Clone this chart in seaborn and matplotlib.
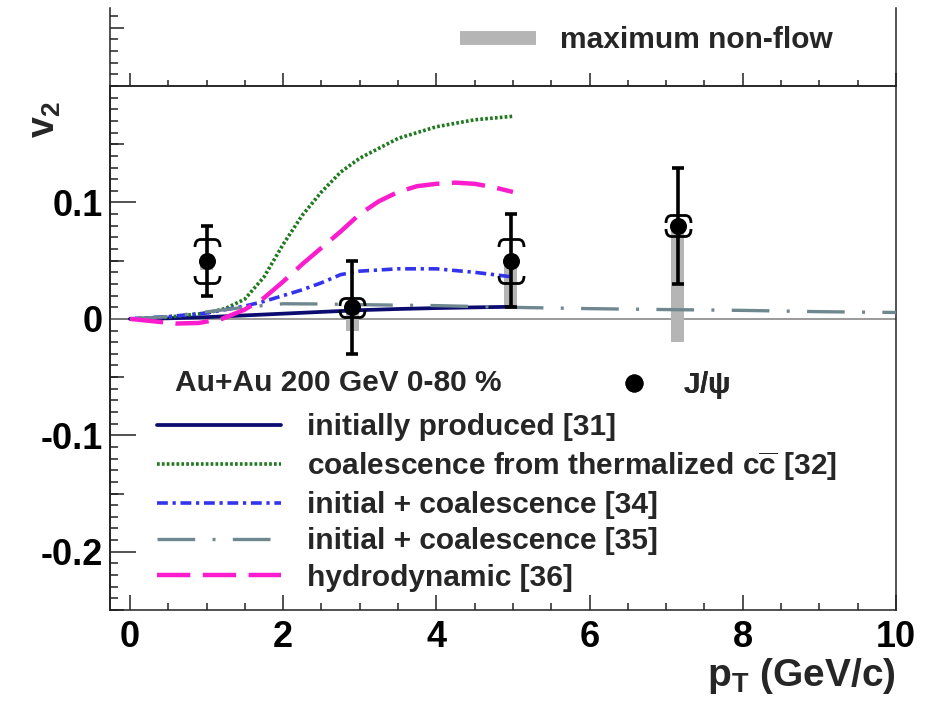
import numpy as np
import pandas as pd
import matplotlib
matplotlib.use("Agg")
import matplotlib.pyplot as plt
import seaborn as sns
from matplotlib.path import Path
from matplotlib.lines import Line2D
from matplotlib.ticker import MultipleLocator, NullLocator

# ---- J/psi v2 measurement (Au+Au 200 GeV, 0-80 %) ----
pt_jpsi = [1.0, 2.9, 4.97, 7.15]
v2_jpsi = [0.05, 0.01, 0.05, 0.08]
stat_err = [0.03, 0.04, 0.04, 0.05]
sys_err = [0.019, 0.008, 0.019, 0.009]
nonflow = [0.008, 0.02, 0.04, 0.10]

# ---- model curves ----
pt_31 = [0, 0.5, 1.0, 1.5, 2.0, 2.5, 3.0, 3.5, 4.0, 4.5, 5.0]
v2_31 = [0, 0.0005, 0.0015, 0.003, 0.0045, 0.006, 0.0075, 0.0085, 0.0093, 0.0099, 0.0104]

pt_32 = [0, 0.5, 1.0, 1.25, 1.5, 1.75, 2.0, 2.25, 2.5, 2.75, 3.0, 3.5, 4.0, 4.5, 5.0]
v2_32 = [0, 0.0015, 0.005, 0.009, 0.017, 0.036, 0.064, 0.089, 0.109, 0.126, 0.138, 0.155, 0.165, 0.171, 0.174]

pt_34 = [0, 0.5, 1.0, 1.25, 1.5, 1.75, 2.0, 2.25, 2.5, 2.75, 3.0, 3.5, 4.0, 4.5, 5.0]
v2_34 = [0, 0.002, 0.005, 0.008, 0.011, 0.015, 0.02, 0.025, 0.031, 0.038, 0.041, 0.043, 0.043, 0.040, 0.036]

pt_35 = [0, 0.5, 1.0, 1.5, 2.0, 2.5, 3.0, 4.0, 5.0, 6.0, 7.0, 8.0, 9.0, 10.0]
v2_35 = [0, 0.002, 0.006, 0.010, 0.013, 0.0128, 0.0122, 0.0114, 0.0099, 0.0088, 0.008, 0.0073, 0.0062, 0.0055]

pt_36 = [0, 0.3, 0.6, 0.9, 1.2, 1.5, 1.75, 2.0, 2.25, 2.5, 2.75, 3.0, 3.25, 3.5, 3.75, 4.0, 4.25, 4.5, 4.75, 5.0]
v2_36 = [0, -0.002, -0.004, -0.0035, 0.0, 0.008, 0.018, 0.032, 0.047, 0.061, 0.075, 0.09, 0.101, 0.109, 0.114, 0.116, 0.117, 0.116, 0.113, 0.109]

model_labels = [
    "initially produced [31]",
    "coalescence from thermalized c$\\overline{\\rm c}$ [32]",
    "initial + coalescence [34]",
    "initial + coalescence [35]",
    "hydrodynamic [36]",
]
x_ticks = [0, 2, 4, 6, 8, 10]
y_ticks = [-0.2, -0.1, 0, 0.1]
y_tick_labels = ["-0.2", "-0.1", "0", "0.1"]

sns.set_theme(style="ticks")
plt.rcParams["font.family"] = ["Liberation Sans", "DejaVu Sans"]
plt.rcParams["font.weight"] = "bold"
plt.rcParams["mathtext.fontset"] = "custom"
plt.rcParams["mathtext.rm"] = "Liberation Sans:bold"
plt.rcParams["mathtext.it"] = "Liberation Sans:bold"
plt.rcParams["mathtext.bf"] = "Liberation Sans:bold"
plt.rcParams["mathtext.sf"] = "Liberation Sans"
plt.rcParams["axes.edgecolor"] = "#222222"
plt.rcParams["xtick.color"] = "#222222"
plt.rcParams["ytick.color"] = "#222222"
plt.rcParams["xtick.labelcolor"] = "black"
plt.rcParams["ytick.labelcolor"] = "black"

W, H = 938, 701
fig = plt.figure(figsize=(W / 100, H / 100), dpi=100)
L, R, B, T, TOP = 110, 896, 610, 86, 8
ax = fig.add_axes([L / W, 1 - B / H, (R - L) / W, (B - T) / H])
ax_top = fig.add_axes([L / W, 1 - T / H, (R - L) / W, (T - TOP) / H])

XMIN, XMAX = -0.26, 10.0
YMIN, YMAX = -0.25, 0.2
ax.set_xlim(XMIN, XMAX)
ax.set_ylim(YMIN, YMAX)
ax_top.set_xlim(XMIN, XMAX)
ax_top.set_ylim(YMAX, YMAX + (T - TOP) / (B - T) * (YMAX - YMIN))

for a in (ax, ax_top):
    a.set_facecolor("none")
    for s in a.spines.values():
        s.set_linewidth(1.1)
ax_top.spines["top"].set_visible(False)

# zero line
ax.axhline(0, color="#808080", lw=1.1, zorder=1)

# maximum non-flow boxes
pt_arr = np.array(pt_jpsi)
v2_arr = np.array(v2_jpsi)
nf_arr = np.array(nonflow)
ax.bar(pt_arr, nf_arr, bottom=v2_arr - nf_arr, width=0.17, color="#b5b5b5",
       linewidth=0, zorder=2)

# model curves
sns.lineplot(x=pt_31, y=v2_31, ax=ax, color="#0b0b70", lw=2.7, zorder=3,
             label=model_labels[0])
sns.lineplot(x=pt_32, y=v2_32, ax=ax, color="#1f7a1f", lw=2.6, zorder=3,
             linestyle=(0, (0.75, 0.6)), label=model_labels[1])
sns.lineplot(x=pt_34, y=v2_34, ax=ax, color="#3333ee", lw=2.6, zorder=3,
             linestyle=(0, (3.0, 1.3, 0.9, 1.3)), label=model_labels[2])
sns.lineplot(x=pt_35, y=v2_35, ax=ax, color="#6f8890", lw=2.4, zorder=3,
             linestyle=(0, (11.3, 5.2, 0.9, 5.2)), label=model_labels[3])
sns.lineplot(x=pt_36, y=v2_36, ax=ax, color="#fb1ccd", lw=3.2, zorder=3,
             linestyle=(0, (7.5, 2.8)), label=model_labels[4])
handles, labels = ax.get_legend_handles_labels()

# statistical errors and data points
ax.errorbar(pt_arr, v2_arr, yerr=stat_err, fmt="none", ecolor="black",
            elinewidth=2.6, capsize=4, capthick=2.6, zorder=5)


def bracket(sign):
    verts = [(-1, -0.6 * sign), (-1, 0), (-0.55, 0), (0.55, 0), (1, 0), (1, -0.6 * sign)]
    codes = [Path.MOVETO, Path.CURVE3, Path.CURVE3, Path.LINETO, Path.CURVE3, Path.CURVE3]
    return Path(verts, codes)


sys_arr = np.array(sys_err)
ax.plot(pt_arr, v2_arr + sys_arr, marker=bracket(1), ms=18, mew=2.0, mfc="none",
        mec="black", ls="none", zorder=5)
ax.plot(pt_arr, v2_arr - sys_arr, marker=bracket(-1), ms=18, mew=2.0, mfc="none",
        mec="black", ls="none", zorder=5)
sns.scatterplot(x=pt_jpsi, y=v2_jpsi, ax=ax, color="black", s=150, linewidth=0,
                zorder=6)

# ticks
ax.set_xticks(x_ticks)
ax.set_xticklabels([str(v) for v in x_ticks])
ax.xaxis.set_minor_locator(MultipleLocator(0.5))
ax.set_yticks(y_ticks)
ax.set_yticklabels(y_tick_labels)
ax.yaxis.set_minor_locator(MultipleLocator(0.01))
ax.tick_params(axis="x", which="major", direction="in", length=11, width=1.1,
               labelsize=26, pad=7, top=False, bottom=True)
ax.tick_params(axis="x", which="minor", direction="in", length=5, width=1.1,
               top=False, bottom=True)
ax.tick_params(axis="y", which="major", direction="in", length=19, width=1.1,
               labelsize=26, pad=5, right=False, left=True)
ax.tick_params(axis="y", which="minor", direction="in", length=6, width=1.1,
               right=False, left=True)

sec = ax.secondary_yaxis("left")
sec.set_yticks([-0.25, -0.15, -0.05, 0.05, 0.15])
sec.yaxis.set_minor_locator(NullLocator())
sec.tick_params(direction="in", length=10, width=1.1, labelleft=False)

ax_top.set_xticks(x_ticks)
ax_top.xaxis.set_minor_locator(MultipleLocator(0.5))
ax_top.tick_params(axis="x", which="major", direction="in", length=9.4, width=1.1,
                   labelbottom=False, bottom=True, top=False)
ax_top.tick_params(axis="x", which="minor", direction="in", length=4.3, width=1.1,
                   bottom=True, top=False)
ax_top.set_yticks([0.25])
ax_top.yaxis.set_minor_locator(MultipleLocator(0.01))
ax_top.tick_params(axis="y", which="major", direction="in", length=10, width=1.1,
                   labelleft=False, left=True, right=False)
ax_top.tick_params(axis="y", which="minor", direction="in", length=6, width=1.1,
                   left=True, right=False)

FS = 21.5
fsp = FS * 100 / 72

# model legend
leg = ax.legend(handles, labels, loc="upper left",
                bbox_to_anchor=(157 / W, 1 - 413 / H), bbox_transform=fig.transFigure,
                frameon=False, fontsize=FS, handlelength=124 / fsp,
                handletextpad=26 / fsp, labelspacing=0.28, borderpad=0,
                borderaxespad=0)
ax.add_artist(leg)

# J/psi legend entry
jpsi_handle = Line2D([], [], marker="o", color="black", ls="none", ms=12)
leg2 = ax.legend([jpsi_handle], ["J/$\\mathsf{\\psi}$"], loc="center left",
                 bbox_to_anchor=(613 / W, 1 - 385 / H), bbox_transform=fig.transFigure,
                 frameon=False, fontsize=FS, handlelength=1.4, handletextpad=0.93,
                 borderpad=0, borderaxespad=0, numpoints=1)
ax.add_artist(leg2)

fig.text(175 / W, 1 - 383 / H, "Au+Au 200 GeV 0-80 %", fontsize=FS,
         ha="left", va="center")

# non-flow legend entry
nf_handle = Line2D([], [], color="#b5b5b5", lw=10, solid_capstyle="butt")
ax_top.legend([nf_handle], ["maximum non-flow"], loc="center left",
              bbox_to_anchor=(460 / W, 1 - 40 / H), bbox_transform=fig.transFigure,
              frameon=False, fontsize=FS, handlelength=76 / fsp,
              handletextpad=24 / fsp, borderpad=0, borderaxespad=0)

# axis titles
fig.text(45 / W, 1 - 120 / H, "v$_{2}$", rotation=90, fontsize=27,
         ha="center", va="center")
fig.text(896 / W, 1 - 686 / H, "p$_{T}$ (GeV/c)", fontsize=28,
         ha="right", va="baseline")

fig.savefig("out.png", dpi=100)
